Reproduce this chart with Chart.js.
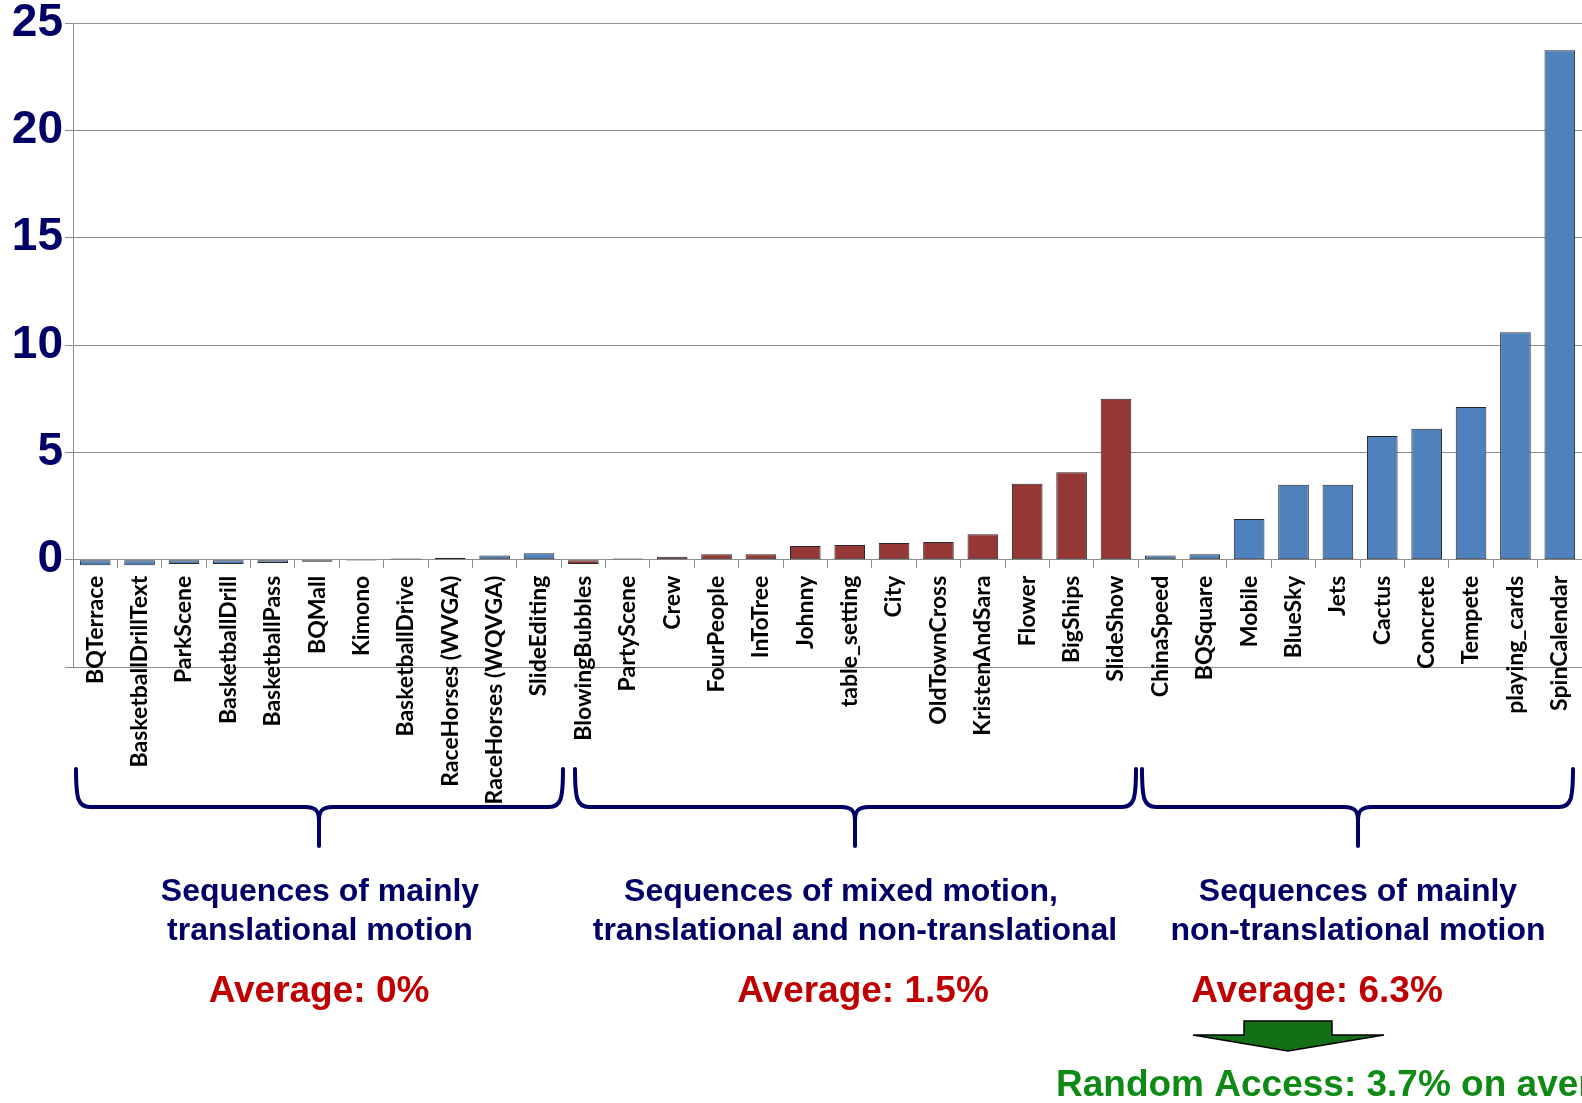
<!DOCTYPE html>
<html>
<head>
<meta charset="utf-8">
<script src="https://cdn.jsdelivr.net/npm/chart.js@4.4.0/dist/chart.umd.min.js"></script>
<style>
  html, body { margin: 0; padding: 0; background: #fff; }
  #wrap { position: relative; width: 1582px; height: 1103px; }
</style>
</head>
<body>
<div id="wrap"><canvas id="chart" width="1582" height="1103"></canvas></div>
<script>
// Test sequences, in plotted order
const sequences = [
  'BQTerrace', 'BasketballDrillText', 'ParkScene', 'BasketballDrill', 'BasketballPass',
  'BQMall', 'Kimono', 'BasketballDrive', 'RaceHorses (WVGA)', 'RaceHorses (WQVGA)', 'SlideEditing',
  'BlowingBubbles', 'PartyScene', 'Crew', 'FourPeople', 'InToTree', 'Johnny', 'table_setting',
  'City', 'OldTownCross', 'KristenAndSara', 'Flower', 'BigShips', 'SlideShow',
  'ChinaSpeed', 'BQSquare', 'Mobile', 'BlueSky', 'Jets', 'Cactus', 'Concrete', 'Tempete',
  'playing_cards', 'SpinCalendar'
];

// Gain per sequence (%)
const gains = [
  -0.26, -0.26, -0.2, -0.2, -0.15, -0.1, -0.05, 0.05, 0.09, 0.19, 0.3,
  -0.2, 0.05, 0.14, 0.25, 0.25, 0.64, 0.68, 0.78, 0.82, 1.18, 3.54, 4.07, 7.5,
  0.19, 0.25, 1.89, 3.49, 3.49, 5.76, 6.1, 7.11, 10.59, 23.73
];

// How many sequences fall in each motion group
const groupSizes = [11, 13, 10];

// Value axis ticks
const yTicks = [-5, 0, 5, 10, 15, 20, 25];

const groupTitles = [
  ['Sequences of mainly', 'translational motion'],
  ['Sequences of mixed motion,', 'translational and non-translational'],
  ['Sequences of mainly', 'non-translational motion']
];
const groupAverages = ['Average: 0%', 'Average: 1.5%', 'Average: 6.3%'];
const randomAccessNote = 'Random Access: 3.7% on average';

// Colours
const NAVY = '#000066';
const BLUE = '#4f81bd';
const RED = '#953735';
const GRID = '#8c8c8c';

const groupColors = [BLUE, RED, BLUE];
const barColors = [];
groupSizes.forEach((n, g) => { for (let i = 0; i < n; i++) barColors.push(groupColors[g]); });

// Layout of the annotations under the axis (pixels)
const braceLayout = [
  { x1: 76, xm: 319, x2: 563 },
  { x1: 575, xm: 855, x2: 1136 },
  { x1: 1142, xm: 1358, x2: 1573 }
];
const titleCenters = [[320, 320], [841, 855], [1358, 1358]];
const averageCenters = [319, 863, 1317];

function drawBrace(ctx, x1, xm, x2, yTop, yBar, yTip) {
  ctx.beginPath();
  ctx.moveTo(x1, yTop);
  ctx.bezierCurveTo(x1, yBar - 8, x1 + 2, yBar, x1 + 14, yBar);
  ctx.lineTo(xm - 14, yBar);
  ctx.bezierCurveTo(xm - 3, yBar, xm, yBar + 4, xm, yBar + 14);
  ctx.lineTo(xm, yTip);
  ctx.moveTo(xm, yBar + 14);
  ctx.bezierCurveTo(xm, yBar + 4, xm + 3, yBar, xm + 14, yBar);
  ctx.lineTo(x2 - 14, yBar);
  ctx.bezierCurveTo(x2 - 2, yBar, x2, yBar - 8, x2, yTop);
  ctx.stroke();
}

// Braces, group captions and the random access arrow
const annotations = {
  id: 'annotations',
  afterDraw(chart) {
    const ctx = chart.ctx;
    ctx.save();

    ctx.strokeStyle = NAVY;
    ctx.lineWidth = 4;
    ctx.lineCap = 'round';
    ctx.lineJoin = 'round';
    braceLayout.forEach(b => drawBrace(ctx, b.x1, b.xm, b.x2, 769, 807, 846));

    ctx.textAlign = 'center';
    ctx.textBaseline = 'alphabetic';
    ctx.fillStyle = NAVY;
    ctx.font = 'bold 32px "Liberation Sans", Arial, sans-serif';
    groupTitles.forEach((lines, g) => {
      ctx.fillText(lines[0], titleCenters[g][0], 901);
      ctx.fillText(lines[1], titleCenters[g][1], 940);
    });

    ctx.fillStyle = '#c00000';
    ctx.font = 'bold 37px "Liberation Sans", Arial, sans-serif';
    groupAverages.forEach((t, g) => ctx.fillText(t, averageCenters[g], 1002));

    // down arrow
    ctx.beginPath();
    ctx.moveTo(1244, 1021);
    ctx.lineTo(1332, 1021);
    ctx.lineTo(1332, 1035);
    ctx.lineTo(1384, 1035);
    ctx.lineTo(1288, 1051);
    ctx.lineTo(1193, 1035);
    ctx.lineTo(1244, 1035);
    ctx.closePath();
    ctx.fillStyle = '#137017';
    ctx.fill();
    ctx.strokeStyle = '#000';
    ctx.lineWidth = 1.5;
    ctx.lineJoin = 'miter';
    ctx.stroke();

    ctx.textAlign = 'left';
    ctx.fillStyle = '#0f8a14';
    ctx.font = 'bold 37px "Liberation Sans", Arial, sans-serif';
    ctx.fillText(randomAccessNote, 1056, 1096);

    ctx.restore();
  }
};

const ctx = document.getElementById('chart').getContext('2d');
new Chart(ctx, {
  type: 'bar',
  data: {
    labels: sequences,
    datasets: [{
      data: gains,
      backgroundColor: barColors,
      borderColor: '#262626',
      borderWidth: 1,
      borderSkipped: false,
      barPercentage: 0.69,
      categoryPercentage: 1
    }]
  },
  options: {
    responsive: false,
    animation: false,
    layout: { padding: { left: 0, top: 23, right: 0, bottom: 436 } },
    plugins: {
      legend: { display: false },
      tooltip: { enabled: false }
    },
    scales: {
      x: {
        position: { y: 0 },
        offset: true,
        afterFit: scale => { scale.paddingLeft = 0; scale.paddingRight = 0; },
        grid: { offset: true, drawOnChartArea: false, drawTicks: true, tickLength: 8, color: GRID },
        border: { display: true, color: GRID },
        ticks: {
          autoSkip: false,
          minRotation: 90,
          maxRotation: 90,
          padding: 8,
          color: '#000',
          font: { family: 'Lato', weight: 'bold', size: 23 }
        }
      },
      y: {
        min: -5,
        max: 25,
        afterBuildTicks: scale => { scale.ticks = yTicks.map(v => ({ value: v })); },
        afterFit: scale => { scale.width = 73; scale.paddingTop = 0; scale.paddingBottom = 0; },
        grid: { color: GRID, tickLength: 8 },
        border: { color: GRID },
        ticks: {
          padding: 2,
          color: NAVY,
          font: { family: '"Liberation Sans"', weight: 'bold', size: 46 },
          callback: v => (v < 0 ? '' : v)
        }
      }
    }
  },
  plugins: [annotations]
});
</script>
</body>
</html>
